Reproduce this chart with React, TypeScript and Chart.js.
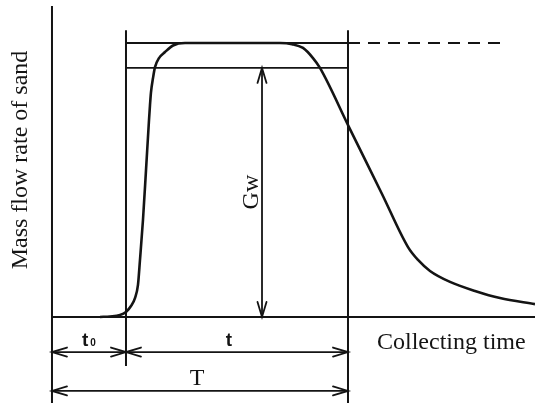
import { useEffect, useRef } from "react";
import { Chart, registerables } from "chart.js";

Chart.register(...registerables);

// Time in units where t0 = 2 and T = 8; flow normalised so that the plateau = 1.
const curveTime = [
  1.297, 1.568, 1.838, 2.0, 2.135, 2.243, 2.324, 2.378, 2.459, 2.541, 2.622, 2.649,
  2.676, 2.73, 2.784, 2.892, 3.054, 3.27, 3.595, 6.162, 6.486, 6.784, 7.054, 7.243,
  8.027, 8.919, 9.622, 9.892, 10.216, 10.757, 11.432, 12.108, 13.054,
];
const curveFlow = [
  0, 0.002, 0.007, 0.018, 0.04, 0.069, 0.117, 0.208, 0.354, 0.536, 0.719, 0.774,
  0.821, 0.872, 0.912, 0.945, 0.967, 0.991, 1.0, 1.0, 0.996, 0.982, 0.945, 0.909,
  0.693, 0.449, 0.255, 0.208, 0.168, 0.128, 0.095, 0.069, 0.047,
];

const t0 = 2;
const T = 8;
const plateau = 1.0;
const gwLevel = 0.909;
const dashedEnd = 12.108;
const gwTime = 5.676;

// visible window of the diagram (data units)
const xMin = -1.405;
const xMax = 13.054;
const yMin = -0.314;
const yMax = 1.157;
const axisTop = 1.135;
const markerTop = 1.047;
const t0Bottom = -0.179;
const shortArrowY = -0.128;
const longArrowY = -0.27;

const INK = "#141414";

type Label = {
  text: string;
  x: number;
  y: number;
  font: string;
  align: CanvasTextAlign;
  rotate?: boolean;
  sub?: string;
};

const labels: Label[] = [
  { text: "Mass flow rate of sand", x: -0.676, y: 0.573, font: "24px 'Liberation Serif'", align: "center", rotate: true },
  { text: "Gw", x: 5.568, y: 0.456, font: "24px 'Liberation Serif'", align: "center", rotate: true },
  { text: "Collecting time", x: 8.784, y: -0.117, font: "24px 'Liberation Serif'", align: "left" },
  { text: "t", x: 1.0, y: -0.106, font: "bold 19px 'Liberation Sans'", align: "center", sub: "0" },
  { text: "t", x: 4.78, y: -0.106, font: "bold 19px 'Liberation Sans'", align: "center" },
  { text: "T", x: 3.92, y: -0.248, font: "24px 'Liberation Serif'", align: "center" },
];

function seg(x1: number, y1: number, x2: number, y2: number) {
  return [
    { x: x1, y: y1 },
    { x: x2, y: y2 },
  ];
}

function drawHead(ctx: CanvasRenderingContext2D, fx: number, fy: number, tx: number, ty: number) {
  const ang = Math.atan2(ty - fy, tx - fx);
  const L = 15;
  const W = 4.5;
  const bx = tx - L * Math.cos(ang);
  const by = ty - L * Math.sin(ang);
  const px = -Math.sin(ang) * W;
  const py = Math.cos(ang) * W;
  ctx.beginPath();
  ctx.moveTo(bx + px, by + py);
  ctx.lineTo(tx, ty);
  ctx.lineTo(bx - px, by - py);
  ctx.stroke();
}

const overlayPlugin = {
  id: "overlay",
  afterDatasetsDraw(chart: any) {
    const ctx: CanvasRenderingContext2D = chart.ctx;
    const xs = chart.scales.x;
    const ys = chart.scales.y;
    ctx.save();
    ctx.strokeStyle = INK;
    ctx.lineWidth = 1.8;
    ctx.lineCap = "round";
    chart.data.datasets.forEach((ds: any, i: number) => {
      if (!ds.arrows) return;
      const pts = chart.getDatasetMeta(i).data;
      const a = pts[0];
      const b = pts[pts.length - 1];
      drawHead(ctx, b.x, b.y, a.x, a.y);
      drawHead(ctx, a.x, a.y, b.x, b.y);
    });
    ctx.fillStyle = INK;
    ctx.textBaseline = "alphabetic";
    labels.forEach((l) => {
      const px = xs.getPixelForValue(l.x);
      const py = ys.getPixelForValue(l.y);
      ctx.font = l.font;
      if (l.rotate) {
        ctx.save();
        ctx.translate(px, py);
        ctx.rotate(-Math.PI / 2);
        ctx.textAlign = l.align;
        ctx.fillText(l.text, 0, 0);
        ctx.restore();
      } else if (l.sub) {
        const w1 = ctx.measureText(l.text).width;
        const subFont = "bold 10px 'Liberation Sans'";
        ctx.font = subFont;
        const w2 = ctx.measureText(l.sub).width;
        const start = px - (w1 + w2 + 2) / 2;
        ctx.textAlign = "left";
        ctx.font = l.font;
        ctx.fillText(l.text, start, py);
        ctx.font = subFont;
        ctx.fillText(l.sub, start + w1 + 2, py);
      } else {
        ctx.textAlign = l.align;
        ctx.fillText(l.text, px, py);
      }
    });
    ctx.restore();
  },
};

export default function App() {
  const ref = useRef<HTMLCanvasElement | null>(null);
  useEffect(() => {
    document.body.style.margin = "0";
    if (!ref.current) return;
    const line = (data: any[], extra: any = {}) => ({
      data,
      borderColor: INK,
      borderWidth: 2,
      pointRadius: 0,
      tension: 0,
      fill: false,
      ...extra,
    });
    const chart = new Chart(ref.current, {
      type: "line",
      data: {
        datasets: [
          line(
            curveTime.map((t, i) => ({ x: t, y: curveFlow[i] })),
            { borderWidth: 2.6, cubicInterpolationMode: "monotone" }
          ),
          line(seg(0, yMin, 0, axisTop)),
          line(seg(0, 0, xMax, 0)),
          line(seg(t0, t0Bottom, t0, markerTop)),
          line(seg(T, yMin, T, markerTop)),
          line(seg(t0, plateau, T, plateau)),
          line(seg(T, plateau, dashedEnd, plateau), { borderDash: [12, 8], borderCapStyle: "butt" }),
          line(seg(t0, gwLevel, T, gwLevel), { borderWidth: 1.8 }),
          line(seg(gwTime, gwLevel, gwTime, 0), { borderWidth: 1.8, arrows: true }),
          line(seg(0, shortArrowY, t0, shortArrowY), { borderWidth: 1.8, arrows: true }),
          line(seg(t0, shortArrowY, T, shortArrowY), { borderWidth: 1.8, arrows: true }),
          line(seg(0, longArrowY, T, longArrowY), { borderWidth: 1.8, arrows: true }),
        ] as any,
      },
      options: {
        responsive: false,
        animation: false,
        layout: { padding: 0 },
        plugins: { legend: { display: false }, tooltip: { enabled: false } },
        scales: {
          x: { type: "linear", min: xMin, max: xMax, display: false },
          y: { type: "linear", min: yMin, max: yMax, display: false },
        },
      },
      plugins: [overlayPlugin],
    });
    return () => chart.destroy();
  }, []);
  return (
    <div style={{ width: 535, height: 403, background: "#fff" }}>
      <canvas ref={ref} width={535} height={403} style={{ display: "block" }} />
    </div>
  );
}
